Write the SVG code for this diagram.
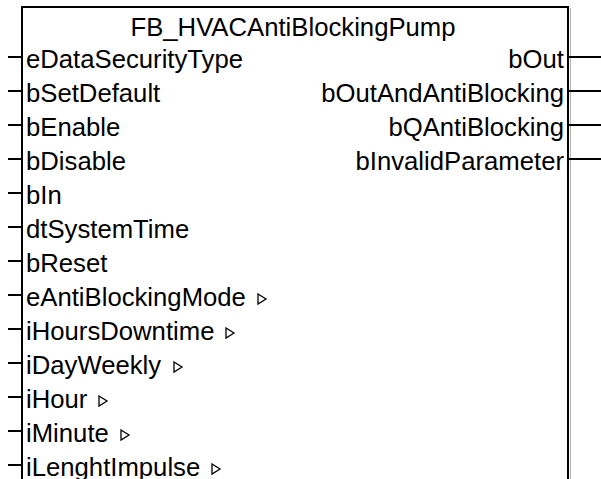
<svg xmlns="http://www.w3.org/2000/svg" width="601" height="479" viewBox="0 0 601 479">
<style>
text{font-family:"Liberation Sans",Arial,sans-serif;font-size:25.7px;fill:#000}
.in{text-anchor:start}
.out{text-anchor:end}
.pin{stroke:#000;stroke-width:2;fill:none}
.box{stroke:#000;stroke-width:2;fill:#fff}
.tri{stroke:#000;stroke-width:1.3;fill:#fff}
</style>
<rect width="601" height="479" fill="#fff"/>
<g id="block">
<path class="box" d="M22,480 V7 H568 V480"/>
<line x1="570.5" y1="8" x2="570.5" y2="479" stroke="#b0b0b0" stroke-width="1"/>
<text x="293" y="36" text-anchor="middle">FB_HVACAntiBlockingPump</text>
</g>
<g id="connectors">
<line class="pin" x1="8" y1="57" x2="22" y2="57"/>
<line class="pin" x1="8" y1="91" x2="22" y2="91"/>
<line class="pin" x1="8" y1="125" x2="22" y2="125"/>
<line class="pin" x1="8" y1="159" x2="22" y2="159"/>
<line class="pin" x1="8" y1="193" x2="22" y2="193"/>
<line class="pin" x1="8" y1="227" x2="22" y2="227"/>
<line class="pin" x1="8" y1="261" x2="22" y2="261"/>
<line class="pin" x1="8" y1="295" x2="22" y2="295"/>
<line class="pin" x1="8" y1="329" x2="22" y2="329"/>
<line class="pin" x1="8" y1="363" x2="22" y2="363"/>
<line class="pin" x1="8" y1="397" x2="22" y2="397"/>
<line class="pin" x1="8" y1="431" x2="22" y2="431"/>
<line class="pin" x1="8" y1="465" x2="22" y2="465"/>
<line class="pin" x1="569" y1="57" x2="601" y2="57"/>
<line class="pin" x1="569" y1="91" x2="601" y2="91"/>
<line class="pin" x1="569" y1="125" x2="601" y2="125"/>
<line class="pin" x1="569" y1="159" x2="601" y2="159"/>
</g>
<g id="inputs">
<g id="in-eDataSecurityType"><text class="in" x="26" y="68">eDataSecurityType</text></g>
<g id="in-bSetDefault"><text class="in" x="26" y="102">bSetDefault</text></g>
<g id="in-bEnable"><text class="in" x="26" y="136">bEnable</text></g>
<g id="in-bDisable"><text class="in" x="26" y="170">bDisable</text></g>
<g id="in-bIn"><text class="in" x="26" y="204">bIn</text></g>
<g id="in-dtSystemTime"><text class="in" x="26" y="238">dtSystemTime</text></g>
<g id="in-bReset"><text class="in" x="26" y="272">bReset</text></g>
<g id="in-eAntiBlockingMode"><text class="in" x="26" y="306">eAntiBlockingMode</text><polygon class="tri" points="258,294 266,299 258,304"/></g>
<g id="in-iHoursDowntime"><text class="in" x="26" y="340">iHoursDowntime</text><polygon class="tri" points="226,328 234,333 226,338"/></g>
<g id="in-iDayWeekly"><text class="in" x="26" y="374">iDayWeekly</text><polygon class="tri" points="174,362 182,367 174,372"/></g>
<g id="in-iHour"><text class="in" x="26" y="408">iHour</text><polygon class="tri" points="99,396 107,401 99,406"/></g>
<g id="in-iMinute"><text class="in" x="26" y="442">iMinute</text><polygon class="tri" points="121,430 129,435 121,440"/></g>
<g id="in-iLenghtImpulse"><text class="in" x="26" y="476">iLenghtImpulse</text><polygon class="tri" points="212,464 220,469 212,474"/></g>
</g>
<g id="outputs">
<g id="out-bOut"><text class="out" x="564" y="68">bOut</text></g>
<g id="out-bOutAndAntiBlocking"><text class="out" x="564" y="102">bOutAndAntiBlocking</text></g>
<g id="out-bQAntiBlocking"><text class="out" x="564" y="136">bQAntiBlocking</text></g>
<g id="out-bInvalidParameter"><text class="out" x="564" y="170">bInvalidParameter</text></g>
</g>
</svg>
